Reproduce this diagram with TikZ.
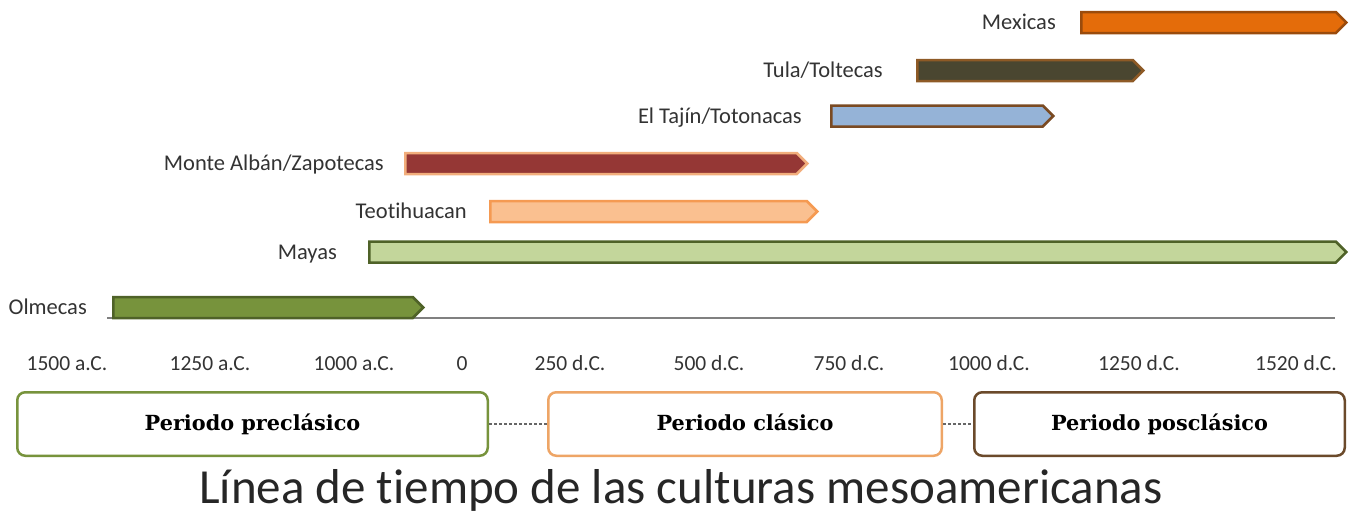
\documentclass[tikz,border=0pt]{standalone}
\usepackage{fontspec}
\setmainfont[Ligatures=NoCommon]{Carlito}
\newfontfamily\periodfont{DejaVu Serif}
\usetikzlibrary{positioning,shapes.symbols}

% colours of the bars
\definecolor{mexicasfill}{HTML}{E46C0A}
\definecolor{mexicasedge}{HTML}{9A4B0C}
\definecolor{tulafill}{HTML}{4A4630}
\definecolor{tulaedge}{HTML}{8E5A26}
\definecolor{tajinfill}{HTML}{95B3D7}
\definecolor{tajinedge}{HTML}{7A4A22}
\definecolor{albanfill}{HTML}{953735}
\definecolor{albanedge}{HTML}{F2AE7C}
\definecolor{teotifill}{HTML}{FAC090}
\definecolor{teotiedge}{HTML}{F59A52}
\definecolor{mayasfill}{HTML}{C3D69B}
\definecolor{mayasedge}{HTML}{4F6228}
\definecolor{olmecasfill}{HTML}{77933C}
\definecolor{olmecasedge}{HTML}{4F6228}
% colours of the periods
\definecolor{preedge}{HTML}{77933C}
\definecolor{claedge}{HTML}{EEA566}
\definecolor{posedge}{HTML}{6B4A2B}

\tikzset{
    culture/.style={signal, signal to=east, signal pointer angle=90,
        minimum height=21pt, inner sep=0pt, line width=2.5pt, anchor=west},
    culturelabel/.style={font=\fontsize{22.5}{27}\selectfont, text=black!80,
        inner sep=0pt, text height=14.5pt, text depth=0pt},
    yearlabel/.style={font=\fontsize{21.5}{26}\selectfont, text=black!80,
        inner sep=0pt, anchor=base},
    period/.style={draw, rounded corners=8pt, line width=2.5pt, fill=white,
        minimum height=63.5pt, inner sep=0pt, text height=15pt, text depth=3pt,
        font=\periodfont\bfseries\fontsize{20.8}{25}\selectfont},
    periodlink/.style={draw=black!60, line width=1.5pt, dash pattern=on 3pt off 2pt},
    axisline/.style={draw=black!50, line width=1.5pt},
}

\begin{document}
\begin{tikzpicture}[x=1pt, y=-1pt]

    \useasboundingbox (0,0) rectangle (1354,514);

    % --- Time axis ---
    \coordinate (axisstart) at (107,318);
    \coordinate (axisend) at (1335,318);
    \draw[axisline] (axisstart) -- (axisend);

    % --- Culture bars ---
    \node[culture, fill=mexicasfill, draw=mexicasedge, minimum width=265pt] (mexicas) at (1080,22.5) {};
    \node[culture, fill=tulafill, draw=tulaedge, minimum width=226pt] (tula) at (916,70.5) {};
    \node[culture, fill=tajinfill, draw=tajinedge, minimum width=222pt] (tajin) at (830,116) {};
    \node[culture, fill=albanfill, draw=albanedge, minimum width=402pt] (alban) at (404,163.5) {};
    \node[culture, fill=teotifill, draw=teotiedge, minimum width=327pt] (teoti) at (489,211.5) {};
    \node[culture, fill=mayasfill, draw=mayasedge, minimum width=977pt] (mayas) at (368,252) {};
    \node[culture, fill=olmecasfill, draw=olmecasedge, minimum width=310pt] (olmecas) at (112,307.5) {};

    % --- Culture names ---
    \node[culturelabel, left=24pt of mexicas] (mexicaslabel) {Mexicas};
    \node[culturelabel, left=33pt of tula] (tulalabel) {Tula/Toltecas};
    \node[culturelabel, left=28pt of tajin] (tajinlabel) {El Tajín/Totonacas};
    \node[culturelabel, left=20pt of alban] (albanlabel) {Monte Albán/Zapotecas};
    \node[culturelabel, left=22pt of teoti] (teotilabel) {Teotihuacan};
    \node[culturelabel, left=31pt of mayas] (mayaslabel) {Mayas};
    \node[culturelabel, left=25pt of olmecas] (olmecaslabel) {Olmecas};

    % --- Years ---
    \foreach \x/\yr in {67/1500 a.C., 210/1250 a.C., 354/1000 a.C., 462/0,
        570/250 d.C., 709/500 d.C., 849/750 d.C., 989/1000 d.C.,
        1139/1250 d.C., 1296/1520 d.C.} {
        \node[yearlabel] (year\x) at (\x,370) {\yr};
    }

    % --- Periods ---
    \node[period, draw=preedge, minimum width=470.5pt] (pre) at (252.5,424) {Periodo preclásico};
    \node[period, draw=claedge, minimum width=393.5pt] (cla) at (745,424) {Periodo clásico};
    \node[period, draw=posedge, minimum width=370.5pt] (pos) at (1159.5,424) {Periodo posclásico};

    \draw[periodlink] (pre.east) -- (cla.west);
    \draw[periodlink] (cla.east) -- (pos.west);

    % --- Title ---
    \node[font=\fontsize{49}{58}\selectfont, text=black!85, anchor=base] (title) at (681,503)
        {Línea de tiempo de las culturas mesoamericanas};

\end{tikzpicture}
\end{document}
